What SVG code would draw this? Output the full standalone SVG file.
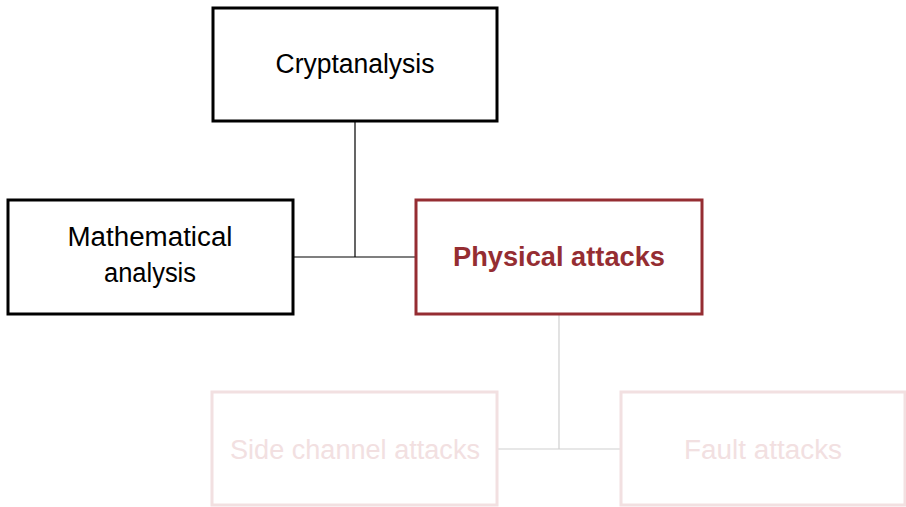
<svg xmlns="http://www.w3.org/2000/svg" width="906" height="507" viewBox="0 0 906 507">
<style>
.box{fill:#fff;stroke-width:3}
.blk{stroke:#000}
.red{stroke:#952d32}
.fad{stroke:#f2e0e1}
text{font-family:"Liberation Sans",Arial,sans-serif;font-size:27px;text-anchor:middle}
.tb{fill:#000}
.tr{fill:#952d32;font-weight:bold}
.tf{fill:#f2e0e1}
</style>
<rect width="906" height="507" fill="#fff"/>
<g id="connectors" fill="none">
<path d="M355 121V257M293 257H416" stroke="#000" stroke-width="1.2"/>
<path d="M559 314V449M497 449H621" stroke="#d0d0d0" stroke-width="1.2"/>
</g>
<g id="cryptanalysis">
<rect class="box blk" x="213" y="8" width="284" height="113"/>
<text class="tb" x="355" y="73" textLength="159" lengthAdjust="spacingAndGlyphs">Cryptanalysis</text>
</g>
<g id="mathematical">
<rect class="box blk" x="8" y="200" width="285" height="114"/>
<text class="tb" x="150" y="246" textLength="165" lengthAdjust="spacingAndGlyphs">Mathematical</text>
<text class="tb" x="150" y="282" textLength="92" lengthAdjust="spacingAndGlyphs">analysis</text>
</g>
<g id="physical">
<rect class="box red" x="416" y="200" width="286" height="114"/>
<text class="tr" x="559" y="266" textLength="212" lengthAdjust="spacingAndGlyphs">Physical attacks</text>
</g>
<g id="sidechannel">
<rect class="box fad" x="212" y="392" width="285" height="113"/>
<text class="tf" x="355" y="459" textLength="250" lengthAdjust="spacingAndGlyphs">Side channel attacks</text>
</g>
<g id="fault">
<rect class="box fad" x="621" y="392" width="284" height="113"/>
<text class="tf" x="763" y="459" textLength="158" lengthAdjust="spacingAndGlyphs">Fault attacks</text>
</g>
</svg>
